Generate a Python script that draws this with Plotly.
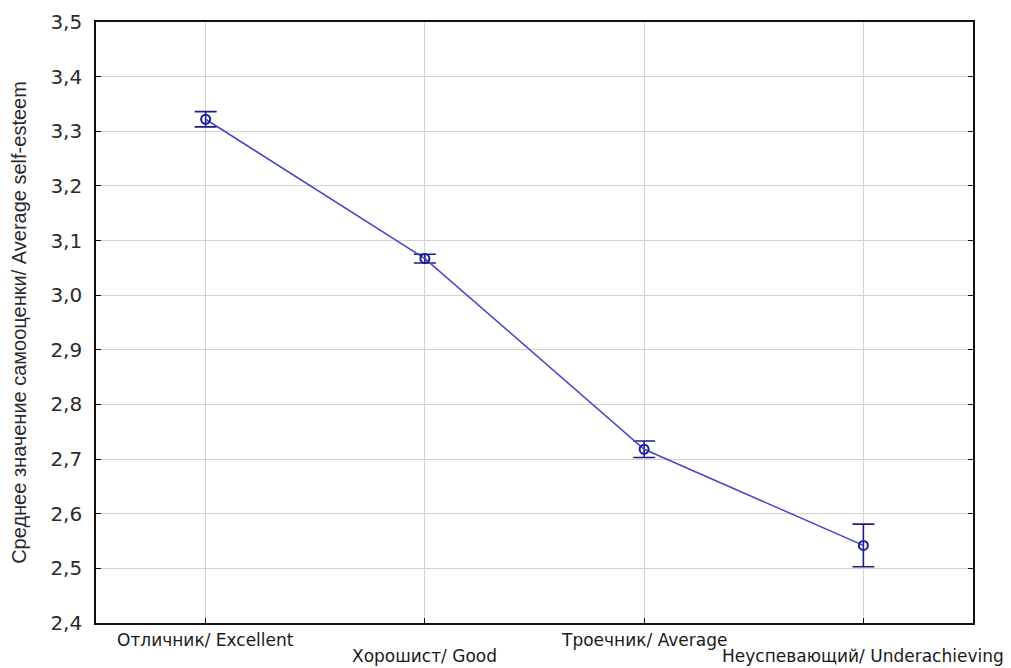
import plotly.graph_objects as go

categories = ["Отличник/ Excellent", "Хорошист/ Good", "Троечник/ Average", "Неуспевающий/ Underachieving"]
means = [3.322, 3.067, 2.718, 2.542]
errors = [0.014, 0.008, 0.015, 0.039]
label_rows = [0, 1, 0, 1]
y_ticks = [2.4, 2.5, 2.6, 2.7, 2.8, 2.9, 3.0, 3.1, 3.2, 3.3, 3.4, 3.5]

xs = list(range(len(categories)))

fig = go.Figure()
fig.add_trace(go.Scatter(
    x=xs, y=means, mode="lines+markers",
    line=dict(color="#4646cc", width=1.5),
    marker=dict(symbol="circle-open", size=9, color="#1c1ca0", line=dict(width=2)),
    error_y=dict(type="data", array=errors, visible=True, color="#1c1c8c", thickness=1.6, width=11),
    showlegend=False,
))

for i, (c, r) in enumerate(zip(categories, label_rows)):
    fig.add_annotation(x=i, y=0, xref="x", yref="paper", yanchor="middle",
                       yshift=-17 - 16 * r, text=c, showarrow=False, borderpad=0,
                       font=dict(family="DejaVu Sans", size=17, color="#1a1a1a"))

fig.update_layout(
    width=1003, height=660,
    margin=dict(l=88, r=38, t=14, b=45, autoexpand=False),
    paper_bgcolor="white", plot_bgcolor="white",
    separators=", ",
    font=dict(family="DejaVu Sans", color="#2a2a2a"),
)
fig.update_xaxes(range=[-0.5, 3.5], tickvals=xs, showticklabels=False, automargin=False,
                 showgrid=True, gridcolor="#d2d2d2", gridwidth=1,
                 showline=True, linecolor="#111111", linewidth=1.6, mirror=True,
                 ticks="inside", ticklen=5, tickcolor="#111111", zeroline=False)
fig.update_yaxes(range=[2.4, 3.5], tickvals=y_ticks, tickformat=".1f", automargin=False,
                 tickfont=dict(family="DejaVu Sans", size=20, color="#2a2a2a"),
                 ticklabelstandoff=8,
                 showgrid=True, gridcolor="#d2d2d2", gridwidth=1,
                 showline=True, linecolor="#111111", linewidth=1.6, mirror="ticks",
                 ticks="inside", ticklen=5, tickcolor="#111111", zeroline=False,
                 title=dict(text="Среднее значение самооценки/ Average self-esteem",
                            font=dict(family="Liberation Sans, Arial", size=20, color="#2a2a2a"),
                            standoff=18))

fig.write_html("out.html")
